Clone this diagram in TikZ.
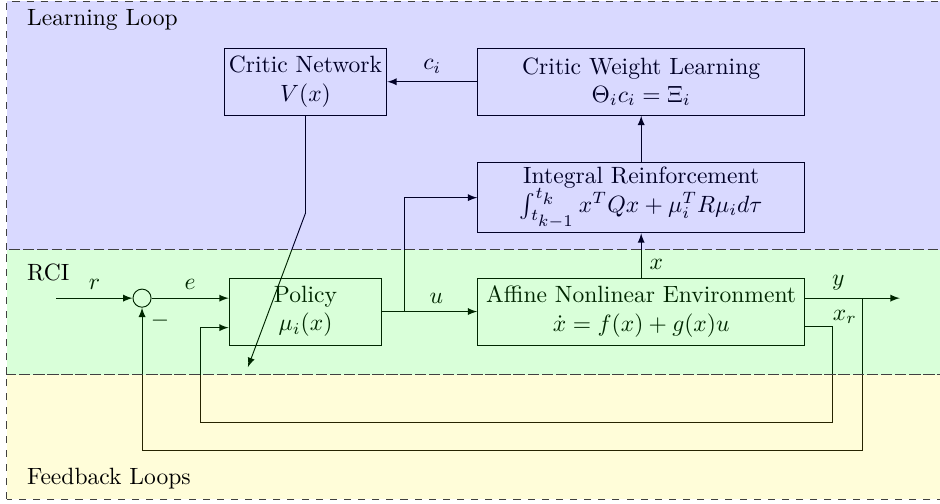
\documentclass[tikz,border=0pt]{standalone}
\usetikzlibrary{arrows}
\begin{document}
\begin{tikzpicture}
	\tikzstyle{block}=[draw,align=center,minimum width=2.28cm,minimum height=1cm,inner sep=2pt]
	\tikzstyle{wide}=[block,minimum width=4.88cm]
	\tikzstyle{sum}=[circle,draw,minimum size=0.27cm,inner sep=0pt]
	\tikzstyle{edge}=[draw,->,>=latex]
	\tikzstyle{region}=[draw=black!75,dashed,fill opacity=0.15]
	\useasboundingbox (0,0) rectangle (14.03,7.52);
	\begin{scope}
		\node [block] (critic) at (4.56,6.30) {Critic Network\\$V(x)$};
		\node [wide] (cwl) at (9.57,6.30) {Critic Weight Learning\\$\Theta_i c_i = \Xi_i$};
		\node [wide] (integ) at (9.57,4.57) {Integral Reinforcement\\$\int_{t_{\scriptstyle k-1}}^{t_{\scriptstyle k}} x^T Q x + \mu_i^T R \mu_i d\tau$};
		\node [block] (pol) at (4.56,2.87) {Policy\\$\mu_i(x)$};
		\node [wide] (aff) at (9.57,2.87) {Affine Nonlinear Environment\\$\dot{x} = f(x) + g(x)u$};
		\node [sum] (sum) at (2.12,3.07) {};
		\coordinate (rin) at (0.84,3.07);
		\coordinate (ubr) at (6.04,2.87);
		\coordinate (yout) at (13.43,3.07);
		\coordinate (ybr) at (12.87,3.07);
		\coordinate (ylow) at (12.87,0.79);
		\coordinate (xr) at (12.43,2.64);
		\coordinate (xrlow) at (12.43,1.22);
		\coordinate (xrin) at (2.99,2.63);
		\coordinate (bend) at (4.56,4.34);
		\coordinate (tip) at (3.70,2.04);
		\path[edge] (rin) -- node[above] {$r$} (sum.west);
		\path[edge] (sum.east) -- node[above] {$e$} (sum -| pol.west);
		\path[edge] (pol.east) -- node[above,pos=0.57] {$u$} (aff.west);
		\path[edge] (ubr) |- (integ.west);
		\path[edge] (aff.north) -- node[right,pos=0.3] {$x$} (integ.south);
		\path[edge] (integ.north) -- (cwl.south);
		\path[edge] (cwl.west) -- node[above] {$c_i$} (critic.east);
		\path[edge] (critic.south) -- (bend) -- (tip);
		\path[edge] (aff.east |- yout) -- node[above,pos=0.35] {$y$} (yout);
		\path[edge] (ybr) -- (ylow) -| (sum.south);
		\path[edge] (aff.east |- xr) -| (xrlow) -| (xrin) -- (pol.west |- xrin);
		\node (xrlab) at (12.61,2.79) {$x_r$};
		\node (minus) at (2.39,2.73) {$-$};
	\end{scope}
	% regions
	\path[region,fill=blue] (0.1,3.79) rectangle (14.2,7.50);
	\path[region,fill=green] (0.1,1.93) rectangle (14.2,3.79);
	\path[region,fill=yellow] (0.1,0.07) rectangle (14.2,1.93);
	\node [anchor=west] (learn) at (0.28,7.22) {Learning Loop};
	\node [anchor=west] (rci) at (0.28,3.46) {RCI};
	\node [anchor=west] (fb) at (0.28,0.37) {Feedback Loops};
\end{tikzpicture}
\end{document}
